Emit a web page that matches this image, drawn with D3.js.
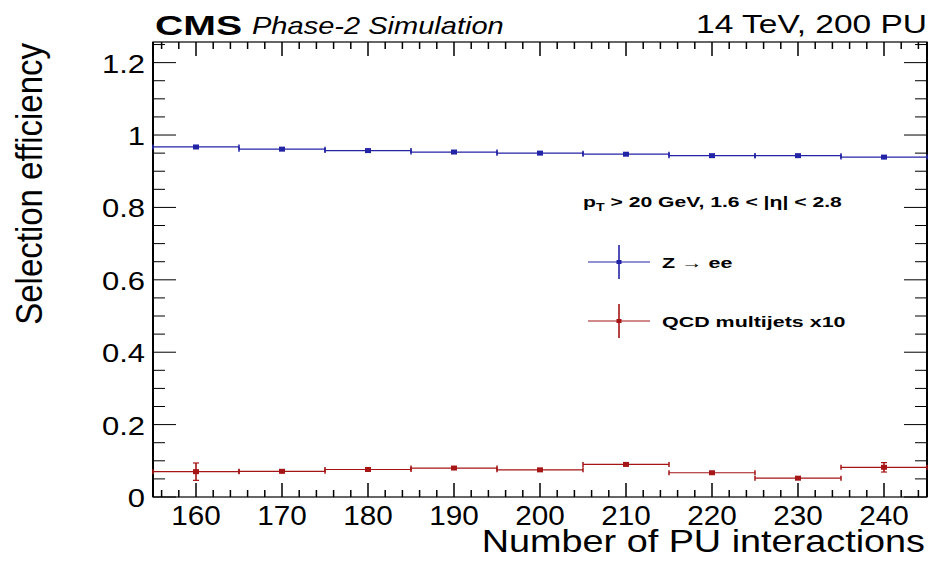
<!DOCTYPE html>
<html>
<head>
<meta charset="utf-8">
<script src="https://cdn.jsdelivr.net/npm/d3@7"></script>
<style>
  body { margin: 0; background: #fff; }
  svg { font-family: "Liberation Sans", Arial, sans-serif; }
</style>
</head>
<body>
<svg id="chart" width="932" height="562"></svg>
<script>
// data
const puValues = [160, 170, 180, 190, 200, 210, 220, 230, 240];
const zeeEff = [0.967, 0.961, 0.957, 0.953, 0.950, 0.947, 0.943, 0.943, 0.939];
const zeeErr = [0.004, 0.002, 0.002, 0.002, 0.002, 0.002, 0.002, 0.002, 0.003];
const qcdEff = [0.070, 0.071, 0.076, 0.080, 0.075, 0.090, 0.067, 0.052, 0.082];
const qcdErr = [0.024, 0.006, 0.003, 0.003, 0.003, 0.003, 0.003, 0.003, 0.013];
const binHalfWidth = 5;
const xTicks = [160, 170, 180, 190, 200, 210, 220, 230, 240];
const yTicks = [0, 0.2, 0.4, 0.6, 0.8, 1, 1.2];

const blue = "#2323a6";
const red = "#a51515";

let margin = {top: 42, right: 5, bottom: 65, left: 153},
    width = 932 - margin.left - margin.right,
    height = 562 - margin.top - margin.bottom;

let svg = d3.select("#chart");
let g = svg.append("g").attr("transform", `translate(${margin.left},${margin.top})`);

let x = d3.scaleLinear().domain([155, 245]).range([0, width]);
let y = d3.scaleLinear().domain([0, 1.257]).range([height, 0]);

// the original canvas is stretched sideways, so text gets a horizontal scale
function wideText(parent, str, px, py, anchor, size, sx) {
  return parent.append("text")
    .attr("transform", `translate(${px},${py}) scale(${sx},1)`)
    .attr("text-anchor", anchor).attr("font-size", size).text(str);
}

// ticks (ROOT style, drawn inward on all four sides)
const xMinor = d3.range(156, 245, 2).filter(v => v % 10 !== 0);
const yMinor = d3.range(0.05, 1.257, 0.05).filter(v => Math.abs(v * 5 - Math.round(v * 5)) > 1e-6);

function tickLines(sel, vals, len, horiz) {
  vals.forEach(v => {
    if (horiz) {
      sel.append("line").attr("x1", x(v)).attr("x2", x(v)).attr("y1", height).attr("y2", height - len).attr("stroke-width", 1.5);
      sel.append("line").attr("x1", x(v)).attr("x2", x(v)).attr("y1", 0).attr("y2", len).attr("stroke-width", 1.5);
    } else {
      sel.append("line").attr("x1", 0).attr("x2", len).attr("y1", y(v)).attr("y2", y(v));
      sel.append("line").attr("x1", width).attr("x2", width - len).attr("y1", y(v)).attr("y2", y(v));
    }
  });
}
let ticks = g.append("g").attr("stroke", "#000").attr("stroke-width", 1);
tickLines(ticks, xTicks, 14, true);
tickLines(ticks, xMinor, 7, true);
tickLines(ticks, yTicks, 23, false);
tickLines(ticks, yMinor, 12, false);

// frame
g.append("rect").attr("x", 0).attr("y", 0).attr("width", width).attr("height", height)
  .attr("fill", "none").attr("stroke", "#000").attr("stroke-width", 1.2);
g.append("line").attr("x1", 0).attr("x2", 0).attr("y1", 0).attr("y2", height).attr("stroke", "#000").attr("stroke-width", 2);
g.append("line").attr("x1", width).attr("x2", width).attr("y1", 0).attr("y2", height).attr("stroke", "#000").attr("stroke-width", 2);

// tick labels
xTicks.forEach(d => wideText(g, d, x(d), height + 28, "middle", 27, 1.1));
yTicks.forEach(d => wideText(g, d3.format("~g")(d), -8, y(d) + 10, "end", 25, 1.24));

// axis titles
wideText(svg, "Number of PU interactions", 925, 552, "end", 31, 1.22);
svg.append("text").attr("transform", "translate(42,43) scale(1.12,1) rotate(-90)").attr("text-anchor", "end")
  .attr("font-size", 33).text("Selection efficiency");

// header
wideText(svg, "CMS", 155, 35, "start", 28, 1.4).attr("font-weight", "bold");
wideText(svg, "Phase-2 Simulation", 252, 34, "start", 24, 1.21).attr("font-style", "italic");
wideText(svg, "14 TeV, 200 PU", 927, 33, "end", 25, 1.34);

// data series
function drawSeries(vals, errs, color) {
  let s = g.append("g").attr("stroke", color).attr("fill", color).attr("stroke-width", 1.2);
  puValues.forEach((pu, i) => {
    let cx = x(pu), cy = y(vals[i]);
    s.append("line").attr("x1", x(pu - binHalfWidth)).attr("x2", x(pu + binHalfWidth)).attr("y1", cy).attr("y2", cy);
    [pu - binHalfWidth, pu + binHalfWidth].forEach(e => {
      s.append("line").attr("x1", x(e)).attr("x2", x(e)).attr("y1", cy - 2.5).attr("y2", cy + 2.5).attr("stroke-width", 1.5);
    });
    s.append("line").attr("x1", cx).attr("x2", cx).attr("y1", y(vals[i] + errs[i])).attr("y2", y(vals[i] - errs[i])).attr("stroke-width", 1.6);
    if (y(vals[i] - errs[i]) - y(vals[i] + errs[i]) > 6) {
      [vals[i] + errs[i], vals[i] - errs[i]].forEach(e => {
        s.append("line").attr("x1", cx - 3).attr("x2", cx + 3).attr("y1", y(e)).attr("y2", y(e));
      });
    }
    s.append("rect").attr("x", cx - 3).attr("y", cy - 2.5).attr("width", 6).attr("height", 5).attr("stroke", "none");
  });
}
drawSeries(zeeEff, zeeErr, blue);
drawSeries(qcdEff, qcdErr, red);

// legend
let leg = svg.append("g");
let pt = leg.append("text").attr("transform", "translate(583,207) scale(1.41,1)")
  .attr("font-size", 15).attr("font-weight", "bold");
pt.append("tspan").text("p");
pt.append("tspan").attr("font-size", 10).attr("dy", 4).text("T");
pt.append("tspan").attr("dy", -4).text(" > 20 GeV, 1.6 < |η| < 2.8");

const legendItems = [
  {label: "Z \u2192 ee", color: blue, cy: 262},
  {label: "QCD multijets x10", color: red, cy: 321}
];
legendItems.forEach(it => {
  leg.append("line").attr("x1", 588).attr("x2", 650).attr("y1", it.cy).attr("y2", it.cy)
    .attr("stroke", it.color).attr("stroke-width", 1.2);
  leg.append("line").attr("x1", 619).attr("x2", 619).attr("y1", it.cy - 17).attr("y2", it.cy + 17)
    .attr("stroke", it.color).attr("stroke-width", 1.6);
  leg.append("rect").attr("x", 616.5).attr("y", it.cy - 2).attr("width", 5).attr("height", 4).attr("fill", it.color);
  wideText(leg, it.label, 662, it.cy + 6, "start", 15, 1.43).attr("font-weight", "bold")
    .attr("xml:space", "preserve");
});
</script>
</body>
</html>
